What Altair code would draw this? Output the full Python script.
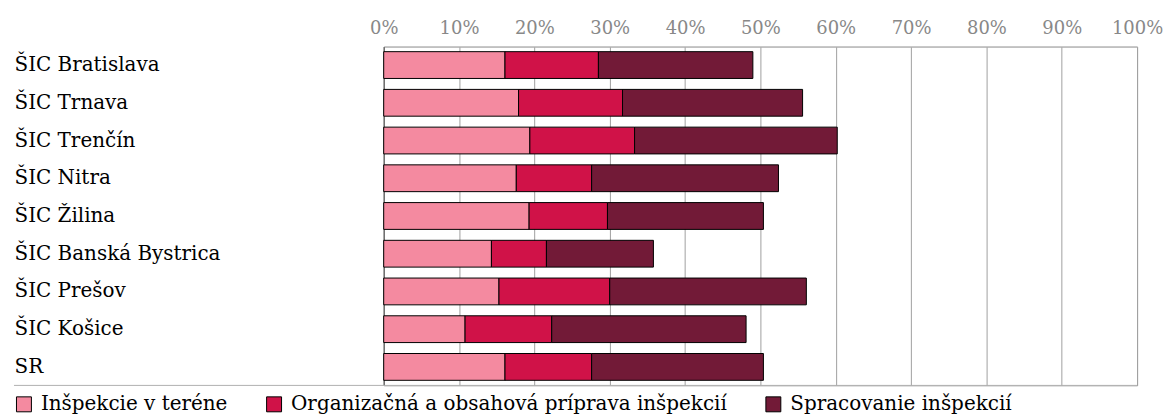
import altair as alt
import pandas as pd

categories = ["ŠIC Bratislava", "ŠIC Trnava", "ŠIC Trenčín", "ŠIC Nitra", "ŠIC Žilina",
              "ŠIC Banská Bystrica", "ŠIC Prešov", "ŠIC Košice", "SR"]
series = ["Inšpekcie v teréne", "Organizačná a obsahová príprava inšpekcií", "Spracovanie inšpekcií"]
teren = [16.1, 17.9, 19.4, 17.6, 19.3, 14.3, 15.3, 10.8, 16.1]
priprava = [12.4, 13.8, 13.9, 10.0, 10.4, 7.3, 14.7, 11.5, 11.5]
spracovanie = [20.5, 23.9, 26.9, 24.8, 20.7, 14.2, 26.1, 25.8, 22.8]
colors = ["#F48AA0", "#D01248", "#721A37"]
ticks = [i / 10 for i in range(11)]

rows = []
for si, (name, vals) in enumerate(zip(series, [teren, priprava, spracovanie])):
    for c, v in zip(categories, vals):
        rows.append({"cat": c, "series": name, "order": si, "value": v / 100})
df = pd.DataFrame(rows)

FONT = "'DejaVu Serif', 'Liberation Serif', serif"

bars = alt.Chart(df).mark_bar(stroke="black", strokeWidth=1).encode(
    x=alt.X("value:Q", stack="zero",
            scale=alt.Scale(domain=[0, 1]),
            axis=alt.Axis(orient="top", values=ticks, format=".0%", title=None,
                          labelColor="#888888", labelFontSize=18, labelFont=FONT,
                          ticks=False, labelPadding=9, domainColor="#b0b0b0",
                          labelFlush=False, labelOverlap=False,
                          gridColor="#a0a0a0", gridWidth=1)),
    y=alt.Y("cat:N", sort=categories, title=None,
            scale=alt.Scale(paddingInner=0.29, paddingOuter=0.135),
            axis=alt.Axis(labelAlign="left", labelPadding=371, labelFontSize=20,
                          labelFont=FONT, labelColor="black", ticks=False,
                          labelLimit=400,
                          domainColor="#555555", grid=False)),
    color=alt.Color("series:N",
                    scale=alt.Scale(domain=series, range=colors),
                    legend=alt.Legend(orient="none", legendX=-371, legendY=349,
                                      direction="horizontal", title=None,
                                      symbolType="square", symbolSize=225,
                                      symbolStrokeColor="black", symbolStrokeWidth=1,
                                      labelFont=FONT, labelFontSize=20, labelColor="black",
                                      columnPadding=36, labelOffset=7, padding=0,
                                      labelLimit=600)),
    order=alt.Order("order:Q"),
)

base_rule = alt.Chart(pd.DataFrame({"a": [0]})).mark_rule(color="#b0b0b0", strokeWidth=1).encode(
    x=alt.value(-371), x2=alt.value(756), y=alt.value(340)
)

chart = alt.layer(bars, base_rule).properties(
    width=756, height=340,
    padding={"left": 5, "top": 11, "right": 0, "bottom": 0},
).configure_view(stroke="#b0b0b0")

chart.save("out.html", embed_options={"renderer": "svg", "actions": False})
